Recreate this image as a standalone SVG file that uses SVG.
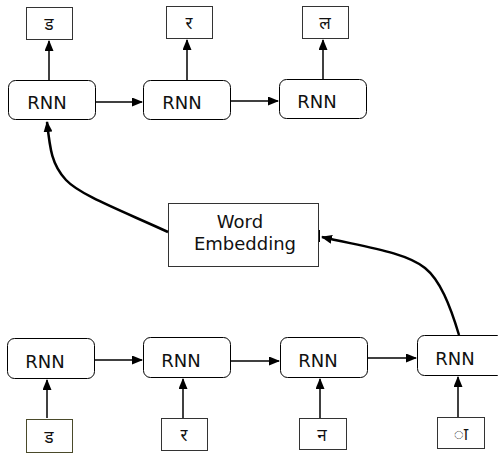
<svg xmlns="http://www.w3.org/2000/svg" width="498" height="453" viewBox="0 0 498 453">
<style>
.rnn{fill:#fff;stroke:#000;stroke-width:1}
.box{fill:#fff;stroke:#333;stroke-width:1}
.t{font-family:"DejaVu Sans","Noto Sans",sans-serif;font-size:18px;fill:#111;text-anchor:middle}
.d{font-family:"Noto Sans","DejaVu Sans",sans-serif;font-size:17px;fill:#111;text-anchor:middle}
.c{fill:none;stroke:#000;stroke-width:1.5}
.cv{fill:none;stroke:#000;stroke-width:2.5}
</style>
<defs>
<marker id="ah" markerWidth="11" markerHeight="9" refX="10" refY="4.5" orient="auto" markerUnits="userSpaceOnUse">
<path d="M0,0 L11,4.5 L0,9 z" fill="#000"/>
</marker>
</defs>
<rect width="498" height="453" fill="#fff"/>
<g id="out1"><rect class="box" x="26.5" y="7.5" width="46" height="32"/><text class="d" x="49" y="30">ड</text></g>
<g id="out2"><rect class="box" x="166.5" y="6.5" width="46" height="32"/><text class="d" x="189" y="29">र</text></g>
<g id="out3"><rect class="box" x="302.5" y="6.5" width="46" height="32"/><text class="d" x="325" y="29">ल</text></g>
<g id="rnnT1"><rect class="rnn" x="8.5" y="80.5" width="87" height="39" rx="7"/><text class="t" x="47" y="109">RNN</text></g>
<g id="rnnT2"><rect class="rnn" x="143.5" y="80.5" width="87" height="39" rx="7"/><text class="t" x="182" y="109">RNN</text></g>
<g id="rnnT3"><rect class="rnn" x="279.5" y="79.5" width="87" height="39" rx="7"/><text class="t" x="317" y="108">RNN</text></g>
<g id="embed"><rect class="box" x="168.5" y="203.5" width="150" height="63"/><text class="t" x="240" y="228">Word</text><text class="t" x="245" y="250">Embedding</text></g>
<g id="rnnB1"><rect class="rnn" x="7.5" y="338.5" width="87" height="40" rx="7"/><text class="t" x="45" y="368">RNN</text></g>
<g id="rnnB2"><rect class="rnn" x="143.5" y="337.5" width="87" height="40" rx="7"/><text class="t" x="181" y="367">RNN</text></g>
<g id="rnnB3"><rect class="rnn" x="280.5" y="337.5" width="87" height="40" rx="7"/><text class="t" x="318" y="367">RNN</text></g>
<g id="rnnB4"><rect class="rnn" x="417.5" y="335.5" width="87" height="40" rx="7"/><text class="t" x="455" y="365">RNN</text></g>
<g id="in1"><rect class="box" x="26.5" y="419.5" width="46" height="33" style="stroke:#4a4a2a"/><text class="d" x="49" y="443">ड</text></g>
<g id="in2"><rect class="box" x="161.5" y="418.5" width="46" height="32"/><text class="d" x="184" y="441">र</text></g>
<g id="in3"><rect class="box" x="299.5" y="418.5" width="47" height="31"/><text class="d" x="322" y="441">न</text></g>
<g id="in4"><rect class="box" x="437.5" y="417.5" width="47" height="31"/><text class="d" x="461" y="440">ा</text></g>
<g id="connectors">
<line class="c" x1="49" y1="80" x2="49" y2="41" marker-end="url(#ah)"/>
<line class="c" x1="187" y1="80" x2="187" y2="40" marker-end="url(#ah)"/>
<line class="c" x1="323" y1="79" x2="323" y2="40" marker-end="url(#ah)"/>
<line class="c" x1="96" y1="102" x2="142" y2="102" marker-end="url(#ah)"/>
<line class="c" x1="231" y1="101" x2="278" y2="101" marker-end="url(#ah)"/>
<line class="c" x1="95" y1="360" x2="142" y2="360" marker-end="url(#ah)"/>
<line class="c" x1="231" y1="361" x2="279" y2="361" marker-end="url(#ah)"/>
<line class="c" x1="368" y1="358" x2="416" y2="358" marker-end="url(#ah)"/>
<line class="c" x1="47" y1="418" x2="47" y2="380" marker-end="url(#ah)"/>
<line class="c" x1="183" y1="418" x2="183" y2="379" marker-end="url(#ah)"/>
<line class="c" x1="320" y1="418" x2="320" y2="379" marker-end="url(#ah)"/>
<line class="c" x1="458" y1="417" x2="458" y2="377" marker-end="url(#ah)"/>
<path class="cv" d="M168,232 C120,210 80,195 66,180 C52,165 50,150 47,122" marker-end="url(#ah)"/>
<path class="cv" d="M459,335 C450,305 440,280 425,268 C405,252 365,247 322,237" marker-end="url(#ah)"/>
<line x1="319.5" y1="230" x2="319.5" y2="242" stroke="#000" stroke-width="1"/>
</g>
</svg>
